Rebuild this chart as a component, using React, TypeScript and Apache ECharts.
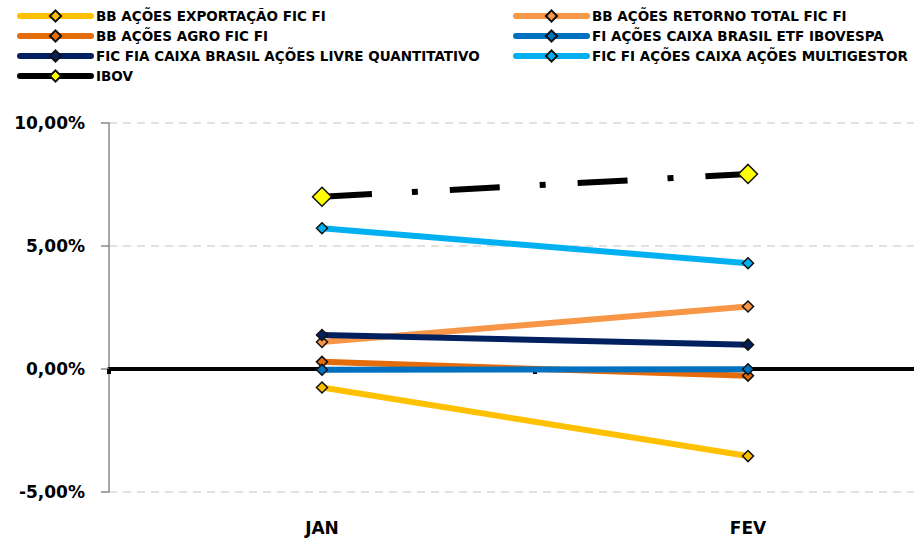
import React, { useEffect, useRef } from "react";
import * as echarts from "echarts";

const categories = ["JAN", "FEV"];
const seriesNames = [
  "BB AÇÕES EXPORTAÇÃO FIC FI",
  "BB AÇÕES RETORNO TOTAL FIC FI",
  "BB AÇÕES AGRO FIC FI",
  "FI AÇÕES CAIXA BRASIL ETF IBOVESPA",
  "FIC FIA CAIXA BRASIL AÇÕES LIVRE QUANTITATIVO",
  "FIC FI AÇÕES CAIXA AÇÕES MULTIGESTOR",
  "IBOV",
];
const exportacao = [-0.75, -3.54];
const retornoTotal = [1.1, 2.54];
const agro = [0.29, -0.27];
const etfIbovespa = [-0.03, -0.01];
const livreQuantitativo = [1.38, 0.99];
const multigestor = [5.72, 4.3];
const ibov = [7.0, 7.93];
const yTicks = [-5, 0, 5, 10];

const colors = ["#FFC000", "#F79646", "#E46C0A", "#0070C0", "#002060", "#00B0F0"];
const FONT = "DejaVu Sans";

export default function App() {
  const ref = useRef<HTMLDivElement>(null);
  useEffect(() => {
    if (!ref.current) return;
    const chart = echarts.init(ref.current, undefined, { renderer: "svg" });
    const values = [exportacao, retornoTotal, agro, etfIbovespa, livreQuantitativo, multigestor];
    const series: any[] = values.map((v, i) => ({
      name: seriesNames[i],
      type: "line",
      data: v,
      xAxisIndex: 0,
      symbol: "diamond",
      symbolSize: 11,
      lineStyle: { color: colors[i], width: 6 },
      itemStyle: { color: colors[i], borderColor: "#111", borderWidth: 1.5 },
      z: 3 + i,
    }));
    series.push({
      name: seriesNames[6],
      type: "line",
      data: ibov,
      xAxisIndex: 0,
      symbol: "diamond",
      symbolSize: 19,
      lineStyle: { color: "#000", width: 6, type: [50, 40, 6, 32], cap: "butt" },
      itemStyle: { color: "#FFFF00", borderColor: "#111", borderWidth: 1.5 },
      z: 10,
    });
    const legendText = { fontFamily: FONT, fontWeight: "bold", fontSize: 13.5, color: "#000" };
    const legendLine = { type: "solid", width: 6, cap: "round" };
    chart.setOption({
      animation: false,
      backgroundColor: "#fff",
      legend: [
        {
          left: 17,
          top: 9,
          orient: "vertical",
          padding: 0,
          itemWidth: 71,
          itemHeight: 14,
          itemGap: 6,
          data: [seriesNames[0], seriesNames[2], seriesNames[4], seriesNames[6]],
          textStyle: legendText,
          lineStyle: legendLine,
        },
        {
          left: 513,
          top: 9,
          orient: "vertical",
          padding: 0,
          itemWidth: 71,
          itemHeight: 14,
          itemGap: 6,
          data: [seriesNames[1], seriesNames[3], seriesNames[5]],
          textStyle: legendText,
          lineStyle: legendLine,
        },
      ],
      grid: { left: 109, top: 123, width: 852, height: 369, containLabel: false },
      xAxis: [
        {
          type: "category",
          data: categories,
          position: "bottom",
          axisLine: { show: false, onZero: false },
          axisTick: { show: false },
          axisLabel: {
            fontFamily: FONT,
            fontWeight: "bold",
            fontSize: 17,
            color: "#000",
            margin: 27,
          },
        },
        {
          type: "category",
          data: categories,
          position: "bottom",
          axisLine: { show: true, onZero: true, lineStyle: { color: "#000", width: 4 } },
          axisTick: { show: true, length: 5, lineStyle: { color: "#000", width: 4 } },
          axisLabel: { show: false },
          splitLine: { show: false },
        },
      ],
      yAxis: {
        type: "value",
        min: yTicks[0],
        max: yTicks[yTicks.length - 1],
        interval: 5,
        axisLine: { show: true, onZero: false, lineStyle: { color: "#8a8a8a", width: 1.5 } },
        axisTick: { show: true, length: 8, lineStyle: { color: "#8a8a8a", width: 1.5 } },
        splitLine: { show: true, lineStyle: { color: "#d9d9d9", width: 1.5, type: [8, 6] } },
        axisLabel: {
          fontFamily: FONT,
          fontWeight: "bold",
          fontSize: 17,
          color: "#000",
          margin: 24,
          formatter: (v: number) => v.toFixed(2).replace(".", ",") + "%",
        },
      },
      series,
    });
    return () => chart.dispose();
  }, []);
  return (
    <div
      style={{
        position: "fixed",
        left: 0,
        top: 0,
        width: 914,
        height: 538,
        overflow: "hidden",
        background: "#fff",
      }}
    >
      <div ref={ref} style={{ width: 1000, height: 538 }} />
    </div>
  );
}
